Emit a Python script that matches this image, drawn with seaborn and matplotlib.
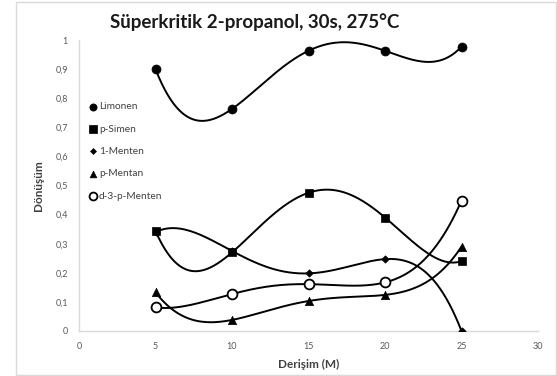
import numpy as np
import pandas as pd
import matplotlib
matplotlib.use('Agg')
import matplotlib.pyplot as plt
from matplotlib.patches import Rectangle
import seaborn as sns

# data
derisim = [5, 10, 15, 20, 25]
limonen = [0.90, 0.763, 0.963, 0.963, 0.977]
p_simen = [0.344, 0.27, 0.475, 0.39, 0.24]
menten_1 = [0.34, 0.275, 0.198, 0.247, 0.0]
p_mentan = [0.133, 0.038, 0.103, 0.124, 0.29]
d3_menten = [0.081, 0.127, 0.161, 0.167, 0.448]

series = [
    ('Limonen', limonen, 'o', 42, 'black'),
    ('p-Simen', p_simen, 's', 40, 'black'),
    ('1-Menten', menten_1, 'D', 14, 'black'),
    ('p-Mentan', p_mentan, '^', 36, 'black'),
    ('d-3-p-Menten', d3_menten, 'o', 50, 'none'),
]

sns.set_style('white')
plt.rcParams['font.family'] = ['Lato', 'DejaVu Sans']

fig = plt.figure(figsize=(5.57, 3.76), dpi=100)
ax = fig.add_axes([79 / 557, 45 / 376, 459 / 557, 291 / 376])

xs = np.linspace(min(derisim), max(derisim), 200)
for name, vals, mk, sz, fc in series:
    # 4th order polynomial trendline (passes through all 5 points)
    coef = np.polyfit(derisim, vals, 4)
    sns.lineplot(x=xs, y=np.polyval(coef, xs), ax=ax, color='black',
                 linewidth=1.4, legend=False)
    df = pd.DataFrame({'x': derisim, 'y': vals})
    sns.scatterplot(data=df, x='x', y='y', ax=ax, marker=mk, s=sz,
                    facecolor=fc if fc != 'none' else 'white', edgecolor='black',
                    linewidth=1.3 if fc == 'none' else 0.5, label=name, zorder=3)

ax.set_xlim(0, 30)
ax.set_ylim(0, 1)
ax.set_xticks([0, 5, 10, 15, 20, 25, 30])
yt = [0, 0.1, 0.2, 0.3, 0.4, 0.5, 0.6, 0.7, 0.8, 0.9, 1]
ax.set_yticks(yt)
ax.set_yticklabels([('%g' % v).replace('.', ',') for v in yt])
ax.tick_params(length=0, labelsize=6.5, colors='#595959', pad=8)

for s in ['top', 'right']:
    ax.spines[s].set_visible(False)
for s in ['left', 'bottom']:
    ax.spines[s].set_color('#d9d9d9')
    ax.spines[s].set_linewidth(1)

ax.set_xlabel('Derişim (M)', fontsize=8.5, fontweight='bold', color='#404040', labelpad=6)
ax.set_ylabel('Dönüşüm', fontsize=8.5, fontweight='bold', color='#404040', labelpad=8)

fig.text(255 / 557, 1 - 22 / 376, 'Süperkritik 2-propanol, 30s, 275°C', ha='center',
         va='center', fontsize=13.5, fontweight='bold', color='#1a1a1a')

leg = ax.legend(loc='upper left', bbox_to_anchor=(0.01, 0.81), frameon=False,
                fontsize=7.3, labelspacing=1.3, handlelength=0.5, markerscale=0.8,
                handletextpad=0.3, borderaxespad=0.3, labelcolor='#404040')

fig.patches.append(Rectangle((16 / 557, 1 / 376), 540 / 557, 373 / 376,
                             transform=fig.transFigure, fill=False,
                             edgecolor='#d9d9d9', linewidth=1))

fig.savefig('out.png', dpi=100)
